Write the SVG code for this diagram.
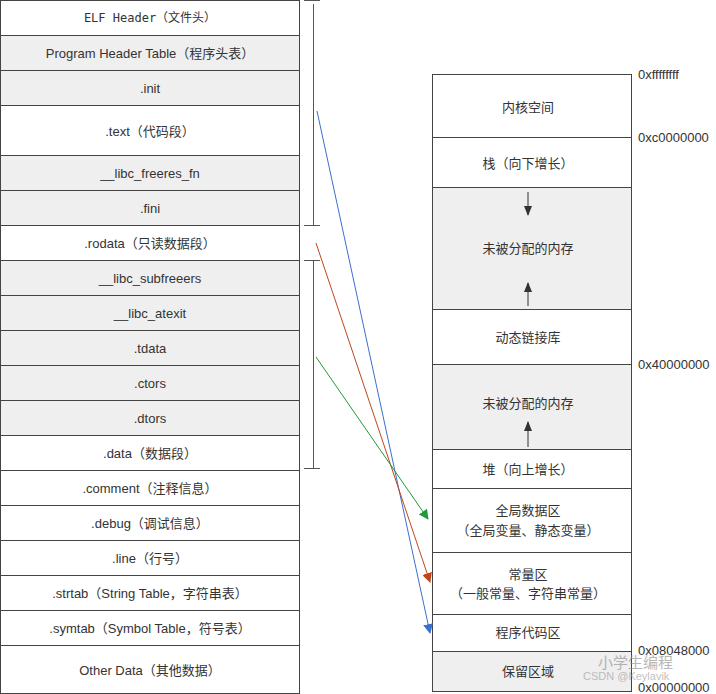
<svg xmlns="http://www.w3.org/2000/svg" width="716" height="694" viewBox="0 0 716 694">
<style>
.c{stroke:#444;stroke-width:1;fill:#fff}.s{fill:#efefef}
text{font-family:"Liberation Sans","Noto Sans CJK SC",sans-serif;font-size:13px;fill:#333;text-anchor:middle;dominant-baseline:central}
.a{text-anchor:start}
.br{stroke:#555;stroke-width:1;fill:none}
</style>
<defs>
<marker id="mb" markerWidth="10" markerHeight="10" refX="9" refY="5" orient="auto" markerUnits="userSpaceOnUse"><path d="M0,0 L10,5 L0,10 Z" fill="#3b6fd0"/></marker>
<marker id="mr" markerWidth="10" markerHeight="10" refX="9" refY="5" orient="auto" markerUnits="userSpaceOnUse"><path d="M0,0 L10,5 L0,10 Z" fill="#c0451a"/></marker>
<marker id="mg" markerWidth="10" markerHeight="10" refX="9" refY="5" orient="auto" markerUnits="userSpaceOnUse"><path d="M0,0 L10,5 L0,10 Z" fill="#1e9a3a"/></marker>
<marker id="mk" markerWidth="10" markerHeight="10" refX="9" refY="5" orient="auto" markerUnits="userSpaceOnUse"><path d="M0,1 L10,5 L0,9 Z" fill="#333"/></marker>
</defs>
<g id="left">
<rect class="c" x="0.5" y="0.5" width="299" height="35"/><text x="150" y="18" style="font-family:'DejaVu Sans Mono','Noto Sans CJK SC',monospace;font-size:12px">ELF Header（文件头）</text>
<rect class="c s" x="0.5" y="35.5" width="299" height="35"/><text x="150" y="53">Program Header Table（程序头表）</text>
<rect class="c s" x="0.5" y="70.5" width="299" height="35"/><text x="150" y="88">.init</text>
<rect class="c" x="0.5" y="105.5" width="299" height="50"/><text x="150" y="131">.text（代码段）</text>
<rect class="c s" x="0.5" y="155.5" width="299" height="35"/><text x="150" y="173">__libc_freeres_fn</text>
<rect class="c s" x="0.5" y="190.5" width="299" height="35"/><text x="150" y="208">.fini</text>
<rect class="c" x="0.5" y="225.5" width="299" height="35"/><text x="150" y="243">.rodata（只读数据段）</text>
<rect class="c s" x="0.5" y="260.5" width="299" height="35"/><text x="150" y="278">__libc_subfreeers</text>
<rect class="c s" x="0.5" y="295.5" width="299" height="35"/><text x="150" y="313">__libc_atexit</text>
<rect class="c s" x="0.5" y="330.5" width="299" height="35"/><text x="150" y="348">.tdata</text>
<rect class="c s" x="0.5" y="365.5" width="299" height="35"/><text x="150" y="383">.ctors</text>
<rect class="c s" x="0.5" y="400.5" width="299" height="35"/><text x="150" y="418">.dtors</text>
<rect class="c" x="0.5" y="435.5" width="299" height="35"/><text x="150" y="453">.data（数据段）</text>
<rect class="c" x="0.5" y="470.5" width="299" height="35"/><text x="150" y="488">.comment（注释信息）</text>
<rect class="c" x="0.5" y="505.5" width="299" height="35"/><text x="150" y="523">.debug（调试信息）</text>
<rect class="c" x="0.5" y="540.5" width="299" height="35"/><text x="150" y="558">.line（行号）</text>
<rect class="c" x="0.5" y="575.5" width="299" height="35"/><text x="150" y="593">.strtab（String Table，字符串表）</text>
<rect class="c" x="0.5" y="610.5" width="299" height="35"/><text x="150" y="628">.symtab（Symbol Table，符号表）</text>
<rect class="c" x="0.5" y="645.5" width="299" height="48"/><text x="150" y="670">Other Data（其他数据）</text>
</g>
<g id="brackets">
<path class="br" d="M304,0.5H320M313.5,4V225M304,225.5H320M304,260.5H320M313.5,260V468M304,468.5H320"/>
</g>
<g id="right">
<rect class="c" x="432.5" y="74.5" width="199" height="63"/><text x="528" y="107">内核空间</text>
<rect class="c" x="432.5" y="137.5" width="199" height="50"/><text x="528" y="163">栈（向下增长）</text>
<rect class="c s" x="432.5" y="187.5" width="199" height="122"/><text x="528" y="248">未被分配的内存</text>
<rect class="c" x="432.5" y="309.5" width="199" height="55"/><text x="528" y="337">动态链接库</text>
<rect class="c s" x="432.5" y="364.5" width="199" height="85"/><text x="528" y="403">未被分配的内存</text>
<rect class="c" x="432.5" y="449.5" width="199" height="39"/><text x="528" y="469">堆（向上增长）</text>
<rect class="c" x="432.5" y="488.5" width="199" height="64"/><text x="528" y="510">全局数据区</text><text x="528" y="530">（全局变量、静态变量）</text>
<rect class="c" x="432.5" y="552.5" width="199" height="62"/><text x="528" y="574">常量区</text><text x="528" y="593">（一般常量、字符串常量）</text>
<rect class="c" x="432.5" y="614.5" width="199" height="37"/><text x="528" y="632">程序代码区</text>
<rect class="c s" x="432.5" y="651.5" width="199" height="40"/><text x="528" y="671">保留区域</text>
</g>
<g id="addr" style="font-size:12px">
<text class="a" x="638" y="74">0xffffffff</text>
<text class="a" x="638" y="137">0xc0000000</text>
<text class="a" x="638" y="364">0x40000000</text>
<text class="a" x="638" y="650">0x08048000</text>
<text class="a" x="638" y="687">0x00000000</text>
</g>
<g id="connectors" fill="none" stroke-width="1">
<path d="M317,111L430,633" stroke="#3b6fd0" marker-end="url(#mb)"/>
<path d="M316,243L430,582" stroke="#c0451a" marker-end="url(#mr)"/>
<path d="M316,357L428,519" stroke="#1e9a3a" marker-end="url(#mg)"/>
<path d="M528,192V215" stroke="#333" marker-end="url(#mk)"/>
<path d="M528,306V283" stroke="#333" marker-end="url(#mk)"/>
<path d="M528,447V422" stroke="#333" marker-end="url(#mk)"/>
</g>
<g id="watermark" opacity="0.6">
<text class="a" x="598" y="662" style="font-size:15px;fill:#888">小学生编程</text>
<text class="a" x="583" y="676" style="font-size:11px;fill:#999">CSDN @Keylavik</text>
</g>
</svg>
